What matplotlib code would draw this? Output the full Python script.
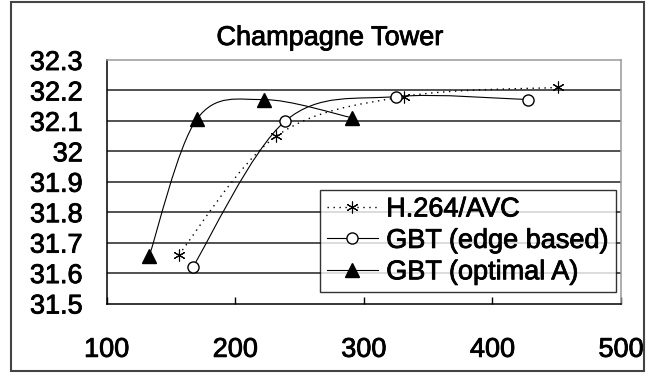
import matplotlib
matplotlib.use("Agg")
import matplotlib.pyplot as plt
import matplotlib.patheffects as pe
from matplotlib.path import Path
from matplotlib.patches import PathPatch, Rectangle
from matplotlib.lines import Line2D

plt.rcParams["font.family"] = ["Liberation Sans", "DejaVu Sans"]
plt.rcParams["font.size"] = 19.5

# bitrate (kbps) vs PSNR (dB)
h264_rate = [156, 232, 331, 451]
h264_psnr = [31.66, 32.05, 32.18, 32.21]
edge_rate = [167, 239, 325, 428]
edge_psnr = [31.62, 32.10, 32.18, 32.17]
opt_rate = [133, 170, 222, 291]
opt_psnr = [31.655, 32.105, 32.17, 32.11]

labels = ["H.264/AVC", "GBT (edge based)", "GBT (optimal A)"]
xticks = [100, 200, 300, 400, 500]
yticks = [31.5, 31.6, 31.7, 31.8, 31.9, 32.0, 32.1, 32.2, 32.3]
yticklabels = ["31.5", "31.6", "31.7", "31.8", "31.9", "32", "32.1", "32.2", "32.3"]

# a little extra weight on the glyphs
heavy = [pe.withStroke(linewidth=0.6, foreground="black")]


def smooth_path(xs, ys):
    # Catmull-Rom style bezier through the points (spreadsheet "smoothed line")
    pts = list(zip(xs, ys))
    n = len(pts)
    verts = [pts[0]]
    codes = [Path.MOVETO]
    for i in range(n - 1):
        p0 = pts[max(i - 1, 0)]
        p1 = pts[i]
        p2 = pts[i + 1]
        p3 = pts[min(i + 2, n - 1)]
        c1 = (p1[0] + (p2[0] - p0[0]) / 6, p1[1] + (p2[1] - p0[1]) / 6)
        c2 = (p2[0] - (p3[0] - p1[0]) / 6, p2[1] - (p3[1] - p1[1]) / 6)
        verts += [c1, c2, p2]
        codes += [Path.CURVE4] * 3
    return Path(verts, codes)


fig = plt.figure(figsize=(6.47, 3.73), dpi=100)
ax = fig.add_axes([0.1649, 0.1863, 0.7949, 0.6528])

ax.set_xlim(100, 500)
ax.set_ylim(31.5, 32.3)
ax.set_yticks(yticks)
ax.set_yticklabels(yticklabels)
ax.set_xticks(xticks)
ax.tick_params(axis="y", length=0, pad=17)
ax.tick_params(axis="x", direction="in", length=5, width=1, pad=24)
for y in yticks[1:-1]:
    ax.axhline(y, color="#222222", lw=1.1, zorder=1)

ax.spines["left"].set_color("black")
ax.spines["bottom"].set_color("black")
ax.spines["top"].set_color("#999999")
ax.spines["right"].set_color("#999999")
for s in ax.spines.values():
    s.set_linewidth(1.1)

series = [
    (h264_rate, h264_psnr, (0, (1, 3.3)),
     dict(marker=(6, 2, 0), markersize=8.5, markeredgewidth=0.8, markeredgecolor="black")),
    (edge_rate, edge_psnr, "-",
     dict(marker="o", markersize=8, markerfacecolor="white", markeredgecolor="black",
          markeredgewidth=1.0)),
    (opt_rate, opt_psnr, "-",
     dict(marker="^", markersize=10, markerfacecolor="black", markeredgecolor="black")),
]

handles = []
for (xs, ys, ls, mk), lab in zip(series, labels):
    lw = 1.0 if ls != "-" else 0.8
    ax.add_patch(PathPatch(smooth_path(xs, ys), fill=False, edgecolor="black",
                           linestyle=ls, linewidth=lw, zorder=3))
    ax.plot(xs, ys, linestyle="none", zorder=4, **mk)
    handles.append(Line2D([], [], color="black", linestyle=ls, linewidth=lw, **mk))

leg = ax.legend(handles, labels, loc="lower right", bbox_to_anchor=(0.990, 0.047),
                borderaxespad=0, frameon=True, fancybox=False, handlelength=1.9,
                handletextpad=0.3, labelspacing=0.2, borderpad=0.25, fontsize=19.5)
leg.get_frame().set_edgecolor("black")
leg.get_frame().set_linewidth(1.0)
leg.set_zorder(5)

fig.text(330 / 647, 1 - 45 / 373, "Champagne Tower", ha="center", va="baseline",
         fontsize=19.5, path_effects=heavy)

for t in ax.get_xticklabels() + ax.get_yticklabels() + leg.get_texts():
    t.set_path_effects(heavy)

# outer chart border
fig.patches.append(Rectangle((11 / 647, 2 / 373), 633 / 647, 369 / 373, transform=fig.transFigure,
                             fill=False, edgecolor="#444444", linewidth=1.5))

fig.savefig("out.png", dpi=100)
